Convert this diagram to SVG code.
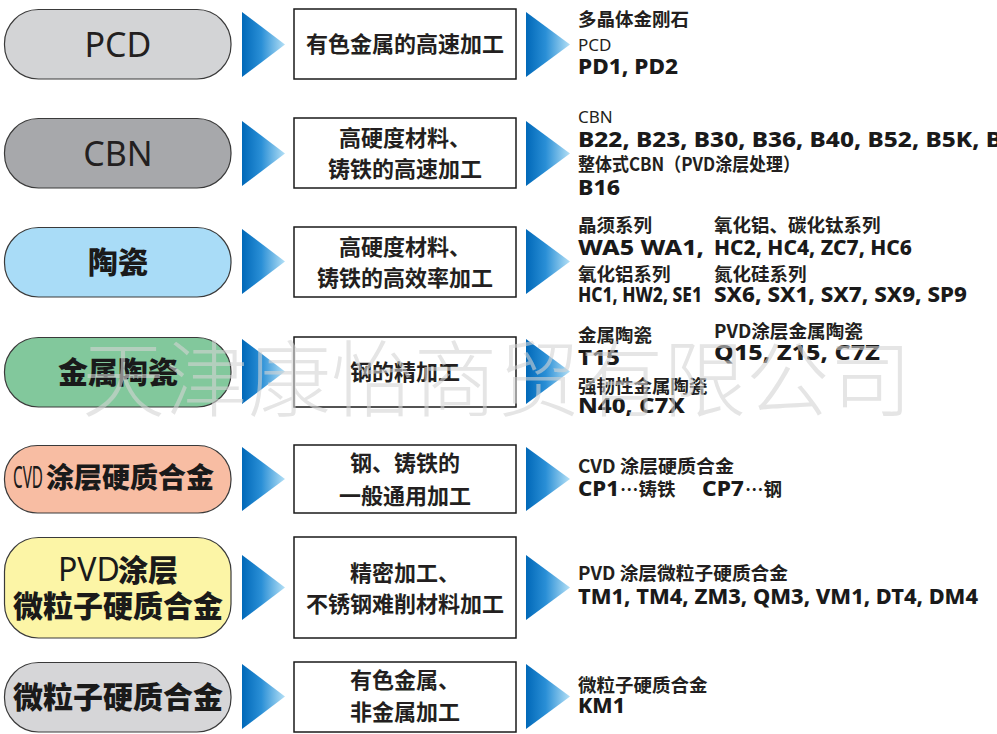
<svg xmlns="http://www.w3.org/2000/svg" width="997" height="734" viewBox="0 0 997 734">
<defs>
  <linearGradient id="ag" x1="0" y1="0" x2="1" y2="0">
    <stop offset="0" stop-color="#0068b8"/>
    <stop offset="0.45" stop-color="#2a8fd6"/>
    <stop offset="1" stop-color="#b4e0f6"/>
  </linearGradient>
  <style>
    .pill{stroke:#3a3a3a;stroke-width:1.2}
    .box{fill:#fff;stroke:#1a1a1a;stroke-width:1.5}
    .arr{fill:url(#ag)}
    .pl{font-family:"Noto Sans","Open Sans",sans-serif;font-size:34px;fill:#231f20;text-anchor:middle}
    .pc{font-family:"Noto Sans CJK SC",sans-serif;font-weight:900;font-size:30px;fill:#1a1a1a;text-anchor:middle}
    .mid{font-family:"Noto Sans CJK SC",sans-serif;font-weight:700;font-size:22px;fill:#231f20;text-anchor:middle}
    .lab{font-family:"Noto Sans CJK SC",sans-serif;font-weight:700;font-size:18.5px;fill:#231f20}
    .labl{font-family:"Noto Sans","Open Sans",sans-serif;font-size:17px;fill:#231f20}
    .code{font-family:"Noto Sans","Open Sans",sans-serif;font-weight:800;font-size:22px;fill:#1a1a1a}
    .wm{font-family:"Noto Sans CJK SC",sans-serif;font-weight:300;font-size:83px;fill:#d4d4d4;opacity:0.6}
  </style>
</defs>
<rect width="997" height="734" fill="#fff"/>

<g id="connectors">
  <polygon class="arr" points="242,12 242,77 285,44.5"/>
  <polygon class="arr" points="526,12 526,77 570,44.5"/>
  <polygon class="arr" points="242,121 242,186 285,153.5"/>
  <polygon class="arr" points="526,121 526,186 570,153.5"/>
  <polygon class="arr" points="242,229 242,294 285,261.5"/>
  <polygon class="arr" points="526,229 526,294 570,261.5"/>
  <polygon class="arr" points="242,339 242,404 285,371.5"/>
  <polygon class="arr" points="526,339 526,404 570,371.5"/>
  <polygon class="arr" points="242,447 242,511 285,479"/>
  <polygon class="arr" points="526,447 526,511 570,479"/>
  <polygon class="arr" points="242,555 242,620 285,587.5"/>
  <polygon class="arr" points="526,555 526,620 570,587.5"/>
  <polygon class="arr" points="242,664 242,729 285,696.5"/>
  <polygon class="arr" points="526,664 526,729 570,696.5"/>
</g>

<g id="pcd">
  <rect class="pill" x="4.5" y="9.5" width="226.5" height="69.5" rx="34" fill="#d3d4d6"/>
  <text class="pl" x="118" y="57">PCD</text>
</g>
<g id="cbn">
  <rect class="pill" x="4.5" y="118.5" width="226.5" height="69.5" rx="34" fill="#a7a8ab"/>
  <text class="pl" x="118" y="166">CBN</text>
</g>
<g id="ceramic">
  <rect class="pill" x="4.5" y="227.5" width="226.5" height="69.5" rx="34" fill="#a9dcf7"/>
  <text class="pc" x="118" y="273">陶瓷</text>
</g>
<g id="cermet">
  <rect class="pill" x="4.5" y="337.5" width="226.5" height="69.5" rx="34" fill="#82c89c"/>
  <text class="pc" x="118" y="383">金属陶瓷</text>
</g>
<g id="cvd">
  <rect class="pill" x="4.5" y="445.5" width="226.5" height="67.5" rx="33" fill="#f8bda3"/>
  <text x="13" y="488" font-family="Noto Sans, Open Sans, sans-serif" font-size="31" fill="#1a1a1a" textLength="30" lengthAdjust="spacingAndGlyphs">CVD</text>
  <text x="46" y="488" font-family="Noto Sans CJK SC, sans-serif" font-weight="900" font-size="28" fill="#1a1a1a">涂层硬质合金</text>
</g>
<g id="pvd">
  <rect class="pill" x="4.5" y="537.5" width="226.5" height="100.5" rx="34" fill="#fcf5a6"/>
  <text x="58" y="581" font-family="Noto Sans, Open Sans, sans-serif" font-size="32" fill="#1a1a1a">PVD</text>
  <text x="118" y="581" font-family="Noto Sans CJK SC, sans-serif" font-weight="900" font-size="30" fill="#1a1a1a">涂层</text>
  <text class="pc" x="118" y="617">微粒子硬质合金</text>
</g>
<g id="micro">
  <rect class="pill" x="4.5" y="662.5" width="226.5" height="69.5" rx="34" fill="#d6d6d8"/>
  <text class="pc" x="118" y="708">微粒子硬质合金</text>
</g>

<g id="box-pcd">
  <rect class="box" x="294" y="9" width="222" height="70"/>
  <text class="mid" x="405" y="52">有色金属的高速加工</text>
</g>
<g id="box-cbn">
  <rect class="box" x="294" y="118" width="222" height="70"/>
  <text class="mid" x="405" y="146">高硬度材料、</text>
  <text class="mid" x="405" y="177">铸铁的高速加工</text>
</g>
<g id="box-ceramic">
  <rect class="box" x="294" y="227" width="222" height="70"/>
  <text class="mid" x="405" y="255">高硬度材料、</text>
  <text class="mid" x="405" y="286">铸铁的高效率加工</text>
</g>
<g id="box-cermet">
  <rect class="box" x="294" y="337" width="222" height="70"/>
  <text class="mid" x="405" y="380">钢的精加工</text>
</g>
<g id="box-cvd">
  <rect class="box" x="294" y="445" width="222" height="68"/>
  <text class="mid" x="405" y="471">钢、铸铁的</text>
  <text class="mid" x="405" y="504">一般通用加工</text>
</g>
<g id="box-pvd">
  <rect class="box" x="294" y="537" width="222" height="101"/>
  <text class="mid" x="405" y="581">精密加工、</text>
  <text class="mid" x="405" y="612">不锈钢难削材料加工</text>
</g>
<g id="box-micro">
  <rect class="box" x="294" y="662" width="222" height="70"/>
  <text class="mid" x="405" y="688">有色金属、</text>
  <text class="mid" x="405" y="720">非金属加工</text>
</g>

<g id="grades-pcd">
  <text class="lab" x="578" y="26">多晶体金刚石</text>
  <text class="labl" x="578" y="51">PCD</text>
  <text class="code" x="578" y="74" textLength="100" lengthAdjust="spacingAndGlyphs">PD1, PD2</text>
</g>
<g id="grades-cbn">
  <text class="labl" x="578" y="123">CBN</text>
  <text class="code" x="578" y="147" textLength="438" lengthAdjust="spacingAndGlyphs">B22, B23, B30, B36, B40, B52, B5K, B6</text>
  <text class="lab" x="578" y="171" textLength="222" lengthAdjust="spacingAndGlyphs">整体式CBN（PVD涂层处理）</text>
  <text class="code" x="578" y="195" textLength="42" lengthAdjust="spacingAndGlyphs">B16</text>
</g>
<g id="grades-ceramic">
  <text class="lab" x="578" y="232">晶须系列</text>
  <text class="lab" x="714" y="232">氧化铝、碳化钛系列</text>
  <text class="code" x="578" y="255" textLength="126" lengthAdjust="spacingAndGlyphs">WA5 WA1,</text>
  <text class="code" x="714" y="255" textLength="198" lengthAdjust="spacingAndGlyphs">HC2, HC4, ZC7, HC6</text>
  <text class="lab" x="578" y="281">氧化铝系列</text>
  <text class="lab" x="714" y="281">氮化硅系列</text>
  <text class="code" x="578" y="302" textLength="124" lengthAdjust="spacingAndGlyphs">HC1, HW2, SE1</text>
  <text class="code" x="714" y="302" textLength="253" lengthAdjust="spacingAndGlyphs">SX6, SX1, SX7, SX9, SP9</text>
</g>
<g id="grades-cermet">
  <text class="lab" x="578" y="342">金属陶瓷</text>
  <text class="lab" x="714" y="338" textLength="149" lengthAdjust="spacingAndGlyphs">PVD涂层金属陶瓷</text>
  <text class="code" x="578" y="365" textLength="42" lengthAdjust="spacingAndGlyphs">T15</text>
  <text class="code" x="714" y="360" textLength="166" lengthAdjust="spacingAndGlyphs">Q15, Z15, C7Z</text>
  <text class="lab" x="578" y="393">强韧性金属陶瓷</text>
  <text class="code" x="578" y="413" textLength="107" lengthAdjust="spacingAndGlyphs">N40, C7X</text>
</g>
<g id="grades-cvd">
  <text class="lab" x="578" y="473" textLength="156" lengthAdjust="spacingAndGlyphs">CVD 涂层硬质合金</text>
  <text class="code" x="578" y="496" textLength="41" lengthAdjust="spacingAndGlyphs">CP1</text>
  <text class="lab" x="620" y="496">…铸铁</text>
  <text class="code" x="702" y="496" textLength="42" lengthAdjust="spacingAndGlyphs">CP7</text>
  <text class="lab" x="745" y="496">…钢</text>
</g>
<g id="grades-pvd">
  <text class="lab" x="578" y="580" textLength="210" lengthAdjust="spacingAndGlyphs">PVD 涂层微粒子硬质合金</text>
  <text class="code" x="578" y="604" textLength="400" lengthAdjust="spacingAndGlyphs">TM1, TM4, ZM3, QM3, VM1, DT4, DM4</text>
</g>
<g id="grades-micro">
  <text class="lab" x="578" y="692">微粒子硬质合金</text>
  <text class="code" x="578" y="713" textLength="47" lengthAdjust="spacingAndGlyphs">KM1</text>
</g>

<text class="wm" x="82" y="410" textLength="830" lengthAdjust="spacingAndGlyphs">天津康怡商贸有限公司</text>
</svg>
